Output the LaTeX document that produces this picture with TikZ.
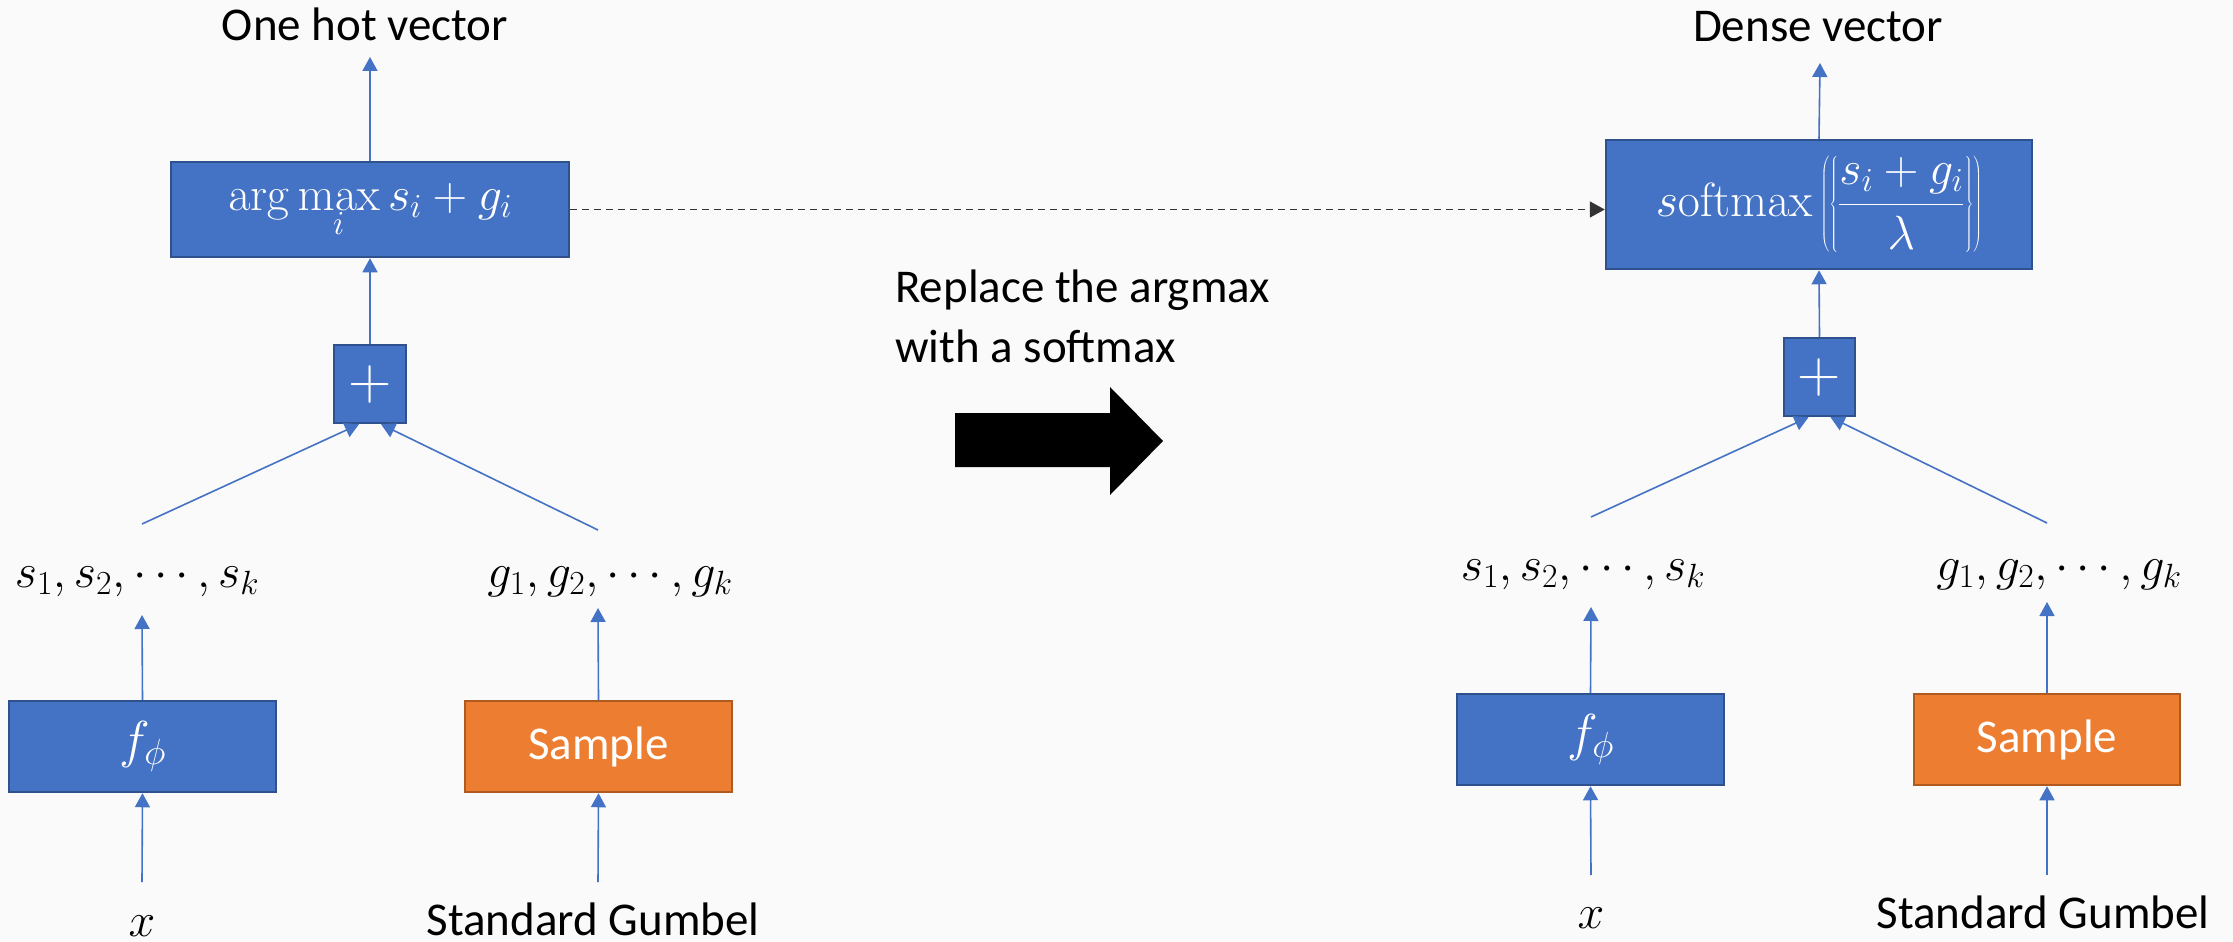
\RequirePackage{fix-cm}
\documentclass[tikz,border=0pt]{standalone}
\usepackage[no-math]{fontspec}
\setmainfont{Carlito}
\usetikzlibrary{arrows.meta}
\definecolor{bfill}{HTML}{4472C4}
\definecolor{bline}{HTML}{2F528F}
\definecolor{ofill}{HTML}{ED7D31}
\definecolor{oline}{HTML}{AE5A21}
\definecolor{bgcol}{HTML}{FAFAFA}
\definecolor{dashcol}{HTML}{333333}
\newcommand\txtsize{\fontsize{47}{55}\selectfont}
\newcommand\mthsize{\fontsize{48}{56}\selectfont}
\newcommand\bigmth{\fontsize{52}{60}\selectfont}
\newcommand\plussize{\fontsize{60}{66}\selectfont}
\begin{document}
\begin{tikzpicture}[x=1pt,y=-1pt,
  blubox/.style={draw=bline, fill=bfill, line width=2.5pt, text=white, inner sep=0pt, font=\mthsize},
  orbox/.style={draw=oline, fill=ofill, line width=2.5pt, text=white, inner sep=0pt, font=\txtsize},
  lbl/.style={font=\txtsize, text=black, inner sep=0pt},
  mlbl/.style={font=\mthsize, text=black, inner sep=0pt},
  conn/.style={draw=bfill, line width=1.6pt, -{Triangle[length=14pt,width=15pt]}},
  dashline/.style={draw=dashcol, line width=1.7pt, dash pattern=on 7pt off 5pt, -{Triangle[length=15pt,width=16pt]}}
]
\fill[bgcol] (0,0) rectangle (2233,942);
\useasboundingbox (0,0) rectangle (2233,942);

% ---------- left ----------
\node[lbl, anchor=base] (hot) at (365,41) {One hot vector};
\node[blubox, minimum width=398pt, minimum height=95pt] (argmax) at (370,209.5) {$\displaystyle\arg\max_i s_i+g_i$};
\node[blubox, font=\plussize, minimum width=72pt, minimum height=78pt] (plusL) at (370,384) {$+$};
\node[mlbl, anchor=base] (sL) at (137,587) {$s_1, s_2, \cdots, s_k$};
\node[mlbl, anchor=base] (gL) at (610,587) {$g_1, g_2, \cdots, g_k$};
\node[blubox, font=\bigmth, minimum width=267pt, minimum height=91pt] (fL) at (142.5,746.5) {$f_\phi$};
\node[orbox, minimum width=267pt, minimum height=91pt] (smL) at (598.5,746.5) {Sample};
\node[mlbl, anchor=base] (xL) at (142,936) {$x$};
\node[lbl, anchor=base] (stdL) at (593,935) {Standard Gumbel};

\coordinate (hotTip) at (370,57);
\coordinate (sLtip) at (142,615);
\coordinate (gLtip) at (598,608);
\coordinate (xLtop) at (142,882);
\coordinate (stdLtop) at (598,882);
\coordinate (sLup) at (142,524);
\coordinate (gLup) at (598,530);

% ---------- middle ----------
\node[lbl, anchor=north west, align=left] (rep) at (895,270) {Replace the argmax\\[5pt]with a softmax};
\fill[black] (955,413) -- (1110,413) -- (1110,387) -- (1163,441) -- (1110,495) -- (1110,467) -- (955,467) -- cycle;

% ---------- right ----------
\node[lbl, anchor=base] (dense) at (1818,42) {Dense vector};
\node[blubox, minimum width=426pt, minimum height=129pt] (soft) at (1819,204.5) {$\displaystyle s\mathrm{oftmax}\left(\left\{\frac{s_i+g_i}{\lambda}\right\}\right)$};
\node[blubox, font=\plussize, minimum width=71pt, minimum height=78pt] (plusR) at (1819.5,377) {$+$};
\node[mlbl, anchor=base] (sR) at (1583,580) {$s_1, s_2, \cdots, s_k$};
\node[mlbl, anchor=base] (gR) at (2059,580) {$g_1, g_2, \cdots, g_k$};
\node[blubox, font=\bigmth, minimum width=267pt, minimum height=91pt] (fR) at (1590.5,739.5) {$f_\phi$};
\node[orbox, minimum width=266pt, minimum height=91pt] (smR) at (2047,739.5) {Sample};
\node[mlbl, anchor=base] (xR) at (1591,928) {$x$};
\node[lbl, anchor=base] (stdR) at (2043,928) {Standard Gumbel};

\coordinate (denseTip) at (1820,63);
\coordinate (sRtip) at (1591,607);
\coordinate (gRtip) at (2047,602);
\coordinate (xRtop) at (1591,875);
\coordinate (stdRtop) at (2047,875);
\coordinate (sRup) at (1591,517);
\coordinate (gRup) at (2047,523);

% ---------- connectors ----------
\draw[conn] (argmax.north) -- (hotTip);
\draw[conn] (plusL.north) -- (argmax.south);
\draw[conn] (sLup) -- ([xshift=-11pt]plusL.south);
\draw[conn] (gLup) -- ([xshift=11pt]plusL.south);
\draw[conn] (fL.north) -- (sLtip);
\draw[conn] (smL.north) -- (gLtip);
\draw[conn] (xLtop) -- (fL.south);
\draw[conn] (stdLtop) -- (smL.south);

\draw[conn] (soft.north) -- (denseTip);
\draw[conn] (plusR.north) -- (soft.south);
\draw[conn] (sRup) -- ([xshift=-11pt]plusR.south);
\draw[conn] (gRup) -- ([xshift=11pt]plusR.south);
\draw[conn] (fR.north) -- (sRtip);
\draw[conn] (smR.north) -- (gRtip);
\draw[conn] (xRtop) -- (fR.south);
\draw[conn] (stdRtop) -- (smR.south);

\draw[dashline] (argmax.east) -- (argmax.east -| soft.west);
\end{tikzpicture}
\end{document}
